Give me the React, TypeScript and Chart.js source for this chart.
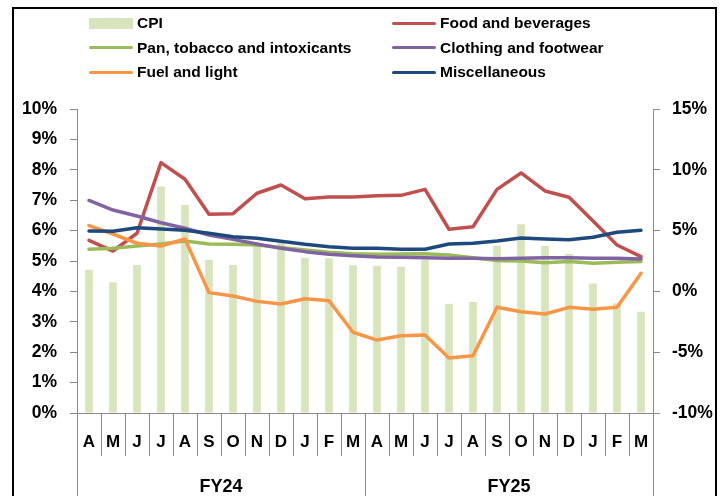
import React, { useEffect, useRef } from "react";
import { Chart, registerables } from "chart.js";

Chart.register(...registerables);

const months = ["A", "M", "J", "J", "A", "S", "O", "N", "D", "J", "F", "M", "A", "M", "J", "J", "A", "S", "O", "N", "D", "J", "F", "M"];
const fiscalYears = ["FY24", "FY25"];
const monthsPerYear = [12, 12];

const cpi = [4.71, 4.3, 4.87, 7.45, 6.84, 5.04, 4.87, 5.5, 5.6, 5.11, 5.09, 4.86, 4.84, 4.81, 5.04, 3.59, 3.65, 5.5, 6.21, 5.49, 5.23, 4.26, 3.61, 3.33];
const food = [4.2, 3.32, 4.78, 10.59, 9.22, 6.34, 6.39, 8.07, 8.75, 7.62, 7.76, 7.76, 7.87, 7.9, 8.39, 5.11, 5.32, 8.39, 9.74, 8.26, 7.74, 5.79, 3.82, 2.86];
const pan = [3.47, 3.54, 3.73, 3.9, 4.14, 3.9, 3.87, 3.82, 3.62, 3.4, 3.21, 3.1, 3.05, 3.08, 3.1, 2.99, 2.77, 2.53, 2.5, 2.36, 2.45, 2.31, 2.39, 2.45];
const clothing = [7.48, 6.69, 6.2, 5.65, 5.19, 4.64, 4.28, 3.9, 3.54, 3.27, 3.05, 2.94, 2.83, 2.8, 2.77, 2.72, 2.72, 2.69, 2.72, 2.77, 2.77, 2.72, 2.72, 2.66];
const fuel = [5.41, 4.72, 3.96, 3.73, 4.31, -0.1, -0.38, -0.82, -1.04, -0.6, -0.77, -3.36, -4.0, -3.64, -3.59, -5.48, -5.29, -1.31, -1.67, -1.86, -1.31, -1.47, -1.31, 1.49];
const misc = [4.97, 4.94, 5.24, 5.13, 5.02, 4.78, 4.5, 4.37, 4.12, 3.87, 3.68, 3.54, 3.54, 3.46, 3.46, 3.9, 3.96, 4.14, 4.39, 4.31, 4.25, 4.45, 4.86, 5.02];

const leftTicks = { min: 0, max: 10, step: 1 };
const rightTicks = { min: -10, max: 15, step: 5 };

const seriesNames = ["CPI", "Food and beverages", "Pan, tobacco and intoxicants", "Clothing and footwear", "Fuel and light", "Miscellaneous"];
const seriesColors = ["#d7e4bd", "#c0504d", "#9bbb59", "#8064a2", "#f79646", "#1f497d"];

const AXIS_GRAY = "#898989";
const FONT = "'Liberation Sans', Arial, sans-serif";

const fyPlugin = {
  id: "fyGroups",
  afterDraw(chart: any) {
    const x = chart.scales.x;
    const ctx = chart.ctx;
    const step = x.getPixelForValue(1) - x.getPixelForValue(0);
    const bottom = chart.chartArea.bottom;
    ctx.save();
    ctx.strokeStyle = AXIS_GRAY;
    ctx.lineWidth = 1;
    ctx.fillStyle = "#000";
    ctx.font = `bold 18px ${FONT}`;
    ctx.textAlign = "center";
    ctx.textBaseline = "middle";
    let start = 0;
    fiscalYears.forEach((fy, k) => {
      const n = monthsPerYear[k];
      const left = x.getPixelForValue(start) - step / 2;
      const right = x.getPixelForValue(start + n - 1) + step / 2;
      [left, right].forEach((px) => {
        const p = Math.round(px) + 0.5;
        ctx.beginPath();
        ctx.moveTo(p, bottom);
        ctx.lineTo(p, chart.height);
        ctx.stroke();
      });
      ctx.fillText(fy, (left + right) / 2, bottom + 74);
      start += n;
    });
    ctx.restore();
  },
};

export default function App() {
  const ref = useRef<HTMLCanvasElement | null>(null);

  useEffect(() => {
    if (!ref.current) return;
    const lineSets = [food, pan, clothing, fuel, misc];
    const lineDatasets = lineSets.map((d, i) => ({
      type: "line" as const,
      label: seriesNames[i + 1],
      data: d,
      yAxisID: "y1",
      borderColor: seriesColors[i + 1],
      backgroundColor: seriesColors[i + 1],
      borderWidth: 3.5,
      pointRadius: 0,
      tension: 0,
      borderJoinStyle: "round" as const,
      borderCapStyle: "round" as const,
      order: 5 - i,
    }));
    const chart = new Chart(ref.current, {
      type: "bar",
      data: {
        labels: months,
        datasets: [
          {
            type: "bar" as const,
            label: seriesNames[0],
            data: cpi,
            yAxisID: "y",
            backgroundColor: seriesColors[0],
            barPercentage: 1,
            categoryPercentage: 0.32,
            order: 10,
          },
          ...lineDatasets,
        ] as any,
      },
      options: {
        animation: false,
        responsive: false,
        layout: { padding: { top: 109, left: 0, right: 0, bottom: 0 } },
        plugins: { legend: { display: false }, tooltip: { enabled: false } },
        scales: {
          x: {
            type: "category",
            offset: true,
            grid: { offset: true, drawOnChartArea: false, drawTicks: true, tickLength: 43, color: AXIS_GRAY },
            border: { display: true, color: AXIS_GRAY },
            ticks: { padding: -24, color: "#000", font: { family: FONT, size: 17, weight: "bold" }, maxRotation: 0, autoSkip: false },
            afterFit: (s: any) => { s.height = 83; },
          },
          y: {
            position: "left",
            min: leftTicks.min,
            max: leftTicks.max,
            ticks: { stepSize: leftTicks.step, padding: 13, color: "#000", font: { family: FONT, size: 17.5, weight: "bold" }, callback: (v: any) => `${v}%` },
            grid: { drawOnChartArea: false, drawTicks: true, tickLength: 7, color: AXIS_GRAY },
            border: { display: true, color: AXIS_GRAY },
            afterFit: (s: any) => { s.width = 77; },
          },
          y1: {
            position: "right",
            min: rightTicks.min,
            max: rightTicks.max,
            ticks: { stepSize: rightTicks.step, padding: 12, color: "#000", font: { family: FONT, size: 17.5, weight: "bold" }, callback: (v: any) => `${v}%` },
            grid: { drawOnChartArea: false, drawTicks: true, tickLength: 7, color: AXIS_GRAY },
            border: { display: true, color: AXIS_GRAY },
            afterFit: (s: any) => { s.width = 70; },
          },
        },
      } as any,
      plugins: [fyPlugin],
    });
    return () => chart.destroy();
  }, []);

  const colX = [89, 392];
  const rowTop = [11.3, 35.6, 60];

  return (
    <div style={{ position: "absolute", left: 0, top: 0, width: 723, height: 496, background: "#fff", overflow: "hidden" }}>
      <canvas ref={ref} width={723} height={496} style={{ position: "absolute", left: 0, top: 0 }} />
      {seriesNames.map((name, i) => {
        const col = i % 2;
        const row = Math.floor(i / 2);
        const isBar = i === 0;
        return (
          <div
            key={name}
            style={{
              position: "absolute",
              left: colX[col],
              top: rowTop[row],
              height: 24,
              display: "flex",
              alignItems: "center",
              font: `bold 15.5px ${FONT}`,
              lineHeight: "24px",
              color: "#000",
              whiteSpace: "nowrap",
            }}
          >
            <span
              style={{
                display: "inline-block",
                width: 44,
                height: isBar ? 11 : 3,
                background: seriesColors[i],
                borderRadius: isBar ? 0 : 2,
                marginRight: 4,
              }}
            />
            <span>{name}</span>
          </div>
        );
      })}
      <div
        style={{
          position: "absolute",
          left: 12,
          top: 7,
          width: 705,
          height: 520,
          border: "2px solid #000",
          boxSizing: "border-box",
          pointerEvents: "none",
        }}
      />
    </div>
  );
}
